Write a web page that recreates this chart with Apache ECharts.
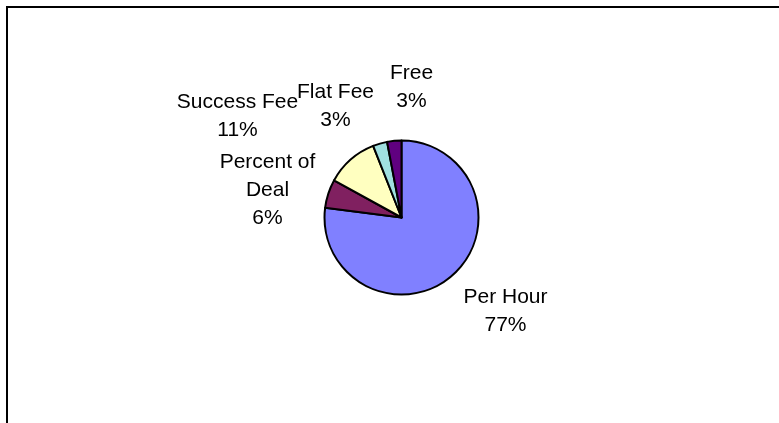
<!DOCTYPE html>
<html>
<head>
<meta charset="utf-8">
<script src="https://cdn.jsdelivr.net/npm/echarts@6/dist/echarts.min.js"></script>
<style>
  html, body { margin: 0; padding: 0; background: #fff; }
  #chart { width: 779px; height: 423px; }
</style>
</head>
<body>
<div id="chart"></div>
<script>
// Fee structure shares, drawn clockwise from 12 o'clock
const categories = ['Per Hour', 'Percent of Deal', 'Success Fee', 'Flat Fee', 'Free'];
const labelNames = ['Per Hour', 'Percent of\nDeal', 'Success Fee', 'Flat Fee', 'Free'];
const shares = [77, 6, 11, 3, 3];
const sliceColors = ['#8080FF', '#802060', '#FFFFC0', '#A0E0E0', '#600080'];

// Label block centres, as offsets in px from the pie centre
const labelOffsets = [[104, 94], [-134, -27], [-164, -101], [-66, -111], [10, -130]];

const pieCenter = [401.5, 217.5];
const pieRadius = 77;

const chart = echarts.init(document.getElementById('chart'), null, { renderer: 'canvas' });

chart.setOption({
  backgroundColor: '#ffffff',
  animation: false,
  graphic: [{
    type: 'polyline',
    shape: { points: [[7, 423], [7, 7], [779, 7]] },
    style: { stroke: '#000', lineWidth: 2, fill: null }
  }],
  series: [{
    type: 'pie',
    center: pieCenter,
    radius: pieRadius,
    startAngle: 90,
    clockwise: true,
    avoidLabelOverlap: false,
    data: categories.map((name, i) => ({
      name: name,
      value: shares[i],
      itemStyle: { color: sliceColors[i] }
    })),
    itemStyle: { borderColor: '#000', borderWidth: 2 },
    label: {
      show: true,
      position: 'outside',
      formatter: p => labelNames[p.dataIndex] + '\n' + p.percent + '%',
      fontFamily: 'Liberation Sans, Arial, sans-serif',
      fontSize: 21,
      lineHeight: 28,
      color: '#000',
      align: 'center'
    },
    labelLine: { show: false },
    labelLayout: function (params) {
      const off = labelOffsets[params.dataIndex];
      return {
        x: pieCenter[0] + off[0],
        y: pieCenter[1] + off[1],
        align: 'center',
        verticalAlign: 'middle'
      };
    },
    emphasis: { disabled: true }
  }]
});
</script>
</body>
</html>
